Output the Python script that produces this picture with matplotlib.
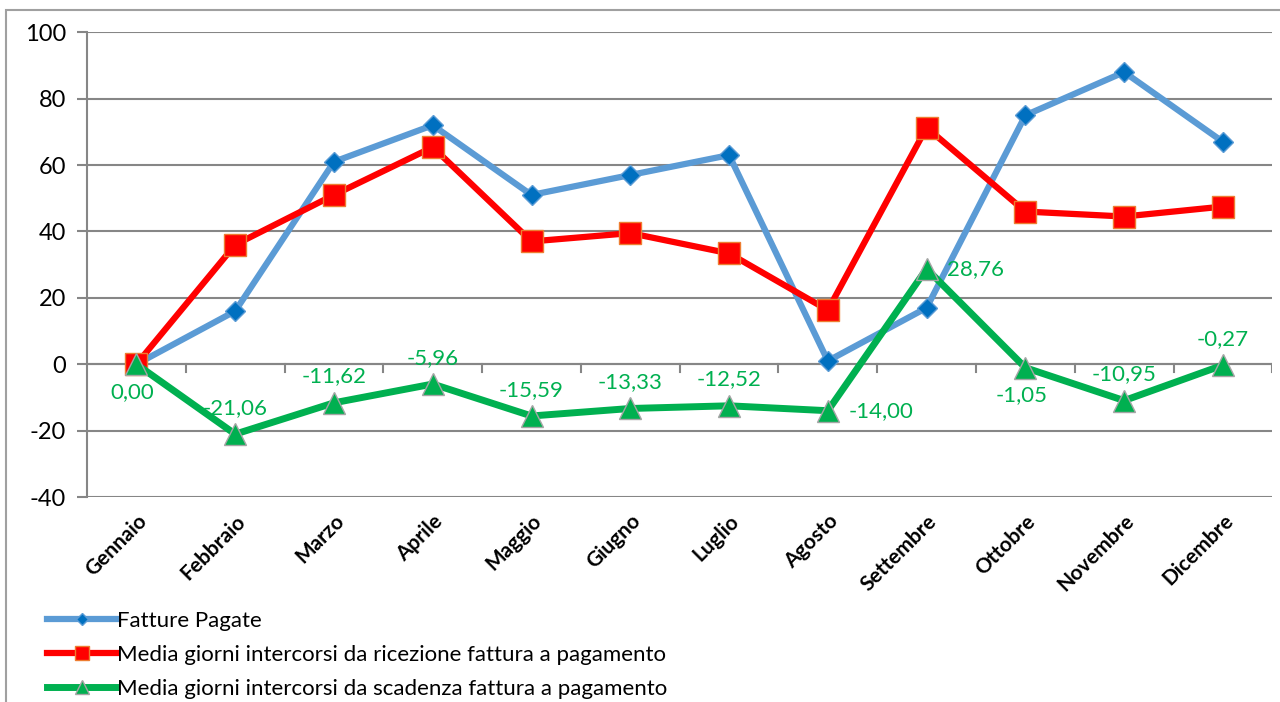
import matplotlib.pyplot as plt
from matplotlib.patches import Rectangle

# month categories and the three series
mesi = ['Gennaio', 'Febbraio', 'Marzo', 'Aprile', 'Maggio', 'Giugno',
        'Luglio', 'Agosto', 'Settembre', 'Ottobre', 'Novembre', 'Dicembre']
fatture_pagate = [0, 16, 61, 72, 51, 57, 63, 1, 17, 75, 88, 67]
media_ricezione = [0, 36, 51, 65.4, 37, 39.5, 33.4, 16.3, 71.3, 46, 44.5, 47.5]
media_scadenza = [0.00, -21.06, -11.62, -5.96, -15.59, -13.33, -12.52,
                  -14.00, 28.76, -1.05, -10.95, -0.27]
# where each green label sits: a = above, b = below, r = right
label_pos = ['b', 'a', 'a', 'a', 'a', 'a', 'a', 'r', 'r', 'b', 'a', 'a']

plt.rcParams['font.family'] = ['Lato', 'DejaVu Sans']
plt.rcParams['axes.unicode_minus'] = False

fig = plt.figure(figsize=(12.8, 7.02), dpi=100)
ax = fig.add_axes([0.068, 0.292, 0.926, 0.662])

x = range(len(mesi))
ax.plot(x, fatture_pagate, color='#5B9BD5', lw=4.5, marker='D', ms=10,
        mfc='#0070C0', mec='#5B9BD5', mew=1, label='Fatture Pagate', zorder=3)
ax.plot(x, media_ricezione, color='#FF0000', lw=4.5, marker='s', ms=16,
        mfc='#FF0000', mec='#ED7D31', mew=1,
        label='Media giorni intercorsi da ricezione fattura a pagamento', zorder=4)
ax.plot(x, media_scadenza, color='#00B050', lw=5, marker='^', ms=16,
        mfc='#00B050', mec='#A5A5A5', mew=1,
        label='Media giorni intercorsi da scadenza fattura a pagamento', zorder=5)

offsets = {'a': ((0, 19), 'center', 'center'),
           'b': ((-3, -20), 'center', 'center'),
           'r': ((15, 0), 'left', 'center')}
for i, v in enumerate(media_scadenza):
    off, ha, va = offsets[label_pos[i]]
    ax.annotate(f'{v:.2f}'.replace('.', ','), (i, v), xytext=off,
                textcoords='offset points', ha=ha, va=va,
                color='#00B050', fontsize=16, zorder=6)

ax.set_xlim(-0.5, len(mesi) - 0.5)
ax.set_ylim(-40, 100)
ax.set_yticks(range(-40, 101, 20))
ax.grid(axis='y', color='#868686', lw=1.5)
ax.set_axisbelow(True)

# category axis crosses at zero, labels at the bottom
ax.axhline(0, color='#868686', lw=1.5, zorder=1)
for b in range(1, len(mesi) + 1):
    ax.plot([b - 0.5, b - 0.5], [0, -2.2], color='#868686', lw=1.5, zorder=1)
ax.set_xticks(list(x))
ax.set_xticklabels(mesi, rotation=45, ha='right', rotation_mode='anchor',
                   fontsize=15, fontweight='bold')
ax.tick_params(axis='x', length=0, pad=10)
ax.tick_params(axis='y', length=7, width=1.5, color='#868686',
               labelsize=17, pad=8)

for s in ['top', 'right', 'bottom']:
    ax.spines[s].set_visible(False)
ax.spines['left'].set_color('#868686')
ax.spines['left'].set_linewidth(1.5)

fig.legend(loc='upper left', bbox_to_anchor=(0.03, 0.142), frameon=False,
           fontsize=16, handlelength=3.1, handletextpad=0.05,
           labelspacing=0.62, markerscale=0.6, borderaxespad=0)

# chart area border
fig.patches.append(Rectangle((6 / 1280, -0.1), 1.2, 1 - 10 / 702 + 0.1,
                             transform=fig.transFigure, fill=False,
                             ec='#A0A0A0', lw=1.5))

fig.savefig('out.png', dpi=100)
